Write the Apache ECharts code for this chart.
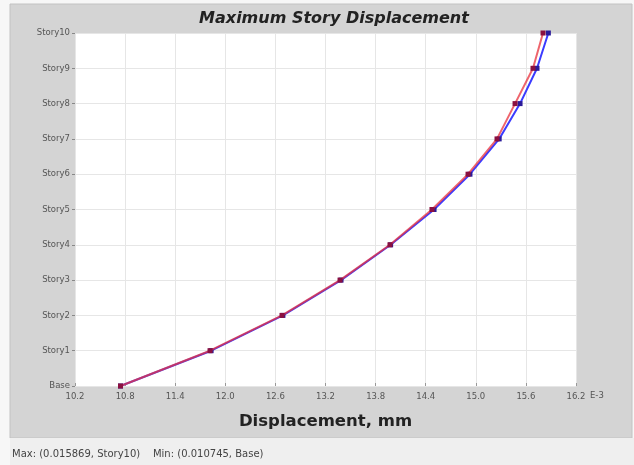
<!DOCTYPE html>
<html>
<head>
<meta charset="utf-8">
<title>Maximum Story Displacement</title>
<script src="https://cdn.jsdelivr.net/npm/echarts@6/dist/echarts.min.js"></script>
<style>
  html, body { margin: 0; padding: 0; background: #f7f7f7; }
  #chart { width: 634px; height: 465px; }
</style>
</head>
<body>
<div id="chart"></div>
<script>
// Story levels from the base up to the roof
const stories = ['Base', 'Story1', 'Story2', 'Story3', 'Story4', 'Story5',
                 'Story6', 'Story7', 'Story8', 'Story9', 'Story10'];

// Maximum displacement per story (units of 1E-3 mm)
const dispRed  = [10.745, 11.817, 12.679, 13.374, 13.972, 14.475, 14.907, 15.254, 15.470, 15.685, 15.805];
const dispBlue = [10.745, 11.830, 12.690, 13.386, 13.980, 14.500, 14.930, 15.280, 15.530, 15.733, 15.869];

// Displacement axis range and step
const xMin = 10.2;
const xMax = 16.2;
const xStep = 0.6;

const statusText = 'Max: (0.015869, Story10)    Min: (0.010745, Base)';

const chart = echarts.init(document.getElementById('chart'), null, { renderer: 'canvas' });

function pairs(vals) {
  return vals.map((v, i) => [v, stories[i]]);
}

const labelFont = { fontFamily: 'DejaVu Sans', fontSize: 8.5, color: '#555' };

chart.setOption({
  animation: false,
  backgroundColor: '#f7f7f7',
  graphic: [
    { type: 'rect', z: -10, shape: { x: 10, y: 4, width: 622, height: 434 },
      style: { fill: '#d4d4d4', stroke: '#c2c2c2', lineWidth: 1 } },
    { type: 'rect', z: -10, shape: { x: 10, y: 438, width: 624, height: 27 },
      style: { fill: '#efefef' } },
    { type: 'text', left: 12, top: 449,
      style: { text: statusText, fontFamily: 'DejaVu Sans', fontSize: 10, fill: '#444' } },
    { type: 'text', x: 590, y: 396,
      style: { text: 'E-3', fontFamily: 'DejaVu Sans', fontSize: 8.5, fill: '#555',
               align: 'left', verticalAlign: 'middle' } }
  ],
  title: {
    text: 'Maximum Story Displacement',
    left: 329, top: 6, textAlign: 'center',
    textStyle: { fontFamily: 'DejaVu Sans', fontSize: 16, fontWeight: 'bold',
                 fontStyle: 'italic', color: '#222' }
  },
  grid: { left: 75, right: 58, top: 33, bottom: 79, show: true,
          backgroundColor: '#ffffff', borderWidth: 0 },
  xAxis: {
    type: 'value', min: xMin, max: xMax, interval: xStep,
    name: 'Displacement, mm', nameLocation: 'middle', nameGap: 27,
    nameTextStyle: { fontFamily: 'DejaVu Sans', fontSize: 16.5, fontWeight: 'bold', color: '#222' },
    axisLine: { show: false },
    axisTick: { show: true, inside: true, length: 3, lineStyle: { color: '#999' } },
    axisLabel: Object.assign({ margin: 6, formatter: v => v.toFixed(1) }, labelFont),
    splitLine: { show: true, lineStyle: { color: '#e6e6e6', width: 1 } }
  },
  yAxis: {
    type: 'category', data: stories, boundaryGap: false,
    axisLine: { show: false },
    axisTick: { show: true, length: 3, lineStyle: { color: '#888' } },
    axisLabel: Object.assign({ margin: 5 }, labelFont),
    splitLine: { show: true, lineStyle: { color: '#e6e6e6', width: 1 } }
  },
  series: [
    {
      type: 'line', data: pairs(dispBlue), z: 2,
      lineStyle: { color: '#3b3bff', width: 2 },
      symbol: 'rect', symbolSize: 5,
      itemStyle: { color: '#2a1a9a' }
    },
    {
      type: 'line', data: pairs(dispRed), z: 3,
      lineStyle: { color: 'rgba(232,50,60,0.75)', width: 2 },
      symbol: 'rect', symbolSize: 5,
      itemStyle: { color: '#8a1040' }
    }
  ]
});
</script>
</body>
</html>
